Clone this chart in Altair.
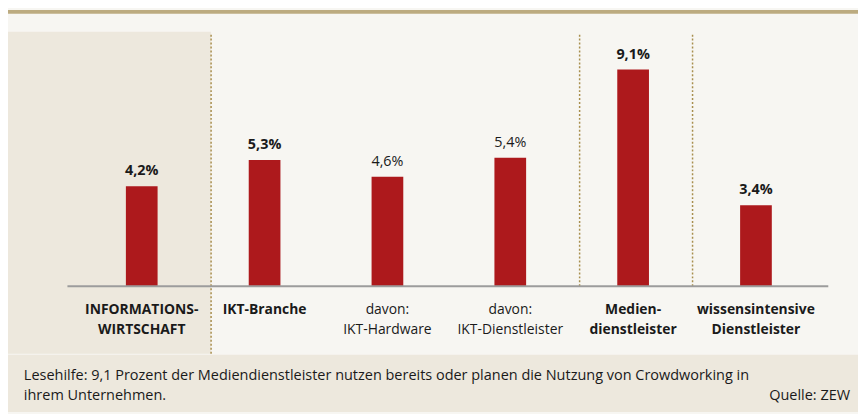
import altair as alt
import pandas as pd

categories = ["INFORMATIONS-\nWIRTSCHAFT", "IKT-Branche", "davon:\nIKT-Hardware",
              "davon:\nIKT-Dienstleister", "Medien-\ndienstleister", "wissensintensive\nDienstleister"]
values = [4.2, 5.3, 4.6, 5.4, 9.1, 3.4]
value_labels = ["4,2%", "5,3%", "4,6%", "5,4%", "9,1%", "3,4%"]
bold_flags = [True, True, False, False, True, True]
note_line1 = "Lesehilfe: 9,1 Prozent der Mediendienstleister nutzen bereits oder planen die Nutzung von Crowdworking in"
note_line2 = "ihrem Unternehmen."
source = "Quelle: ZEW"

FONT = "Open Sans"
BAR = "#ad191c"
BEIGE = "#ede8dd"
BG = "#f7f6f2"
GOLD = "#a88f4e"
INK = "#1a1a1a"

df = pd.DataFrame({"cat": categories, "value": values, "label": value_labels, "bold": bold_flags})
one = pd.DataFrame({"a": [0]})

xs = alt.Scale(domain=categories, range=[73, 817], paddingInner=0, paddingOuter=0)
ys = alt.Scale(domain=[0, 10], range=[279, 38.5])
X = alt.X("cat:N", scale=xs, axis=None, sort=categories)
Y = alt.Y("value:Q", scale=ys, axis=None)

def rect(x, x2, y, y2, color):
    return alt.Chart(one).mark_rect(color=color).encode(
        x=alt.value(x), x2=alt.value(x2), y=alt.value(y), y2=alt.value(y2))

def vrule(x, y, y2):
    return alt.Chart(one).mark_rule(color=GOLD, strokeDash=[2, 2], strokeWidth=1.5).encode(
        x=alt.value(x), y=alt.value(y), y2=alt.value(y2))

def text_line(t, x, y, align):
    return alt.Chart(pd.DataFrame({"t": [t]})).mark_text(
        font=FONT, fontSize=14.6, align=align, baseline="middle", color=INK).encode(
        x=alt.value(x), y=alt.value(y), text="t:N")

top_line = rect(0, 858, 0, 4, "#bcab80")
first_col = rect(0, 205, 22, 347, BEIGE)
bottom_band = rect(0, 858, 348, 406, BEIGE)
sep1 = vrule(205, 25, 347)
sep2 = vrule(577, 25, 279)
sep3 = vrule(691, 25, 279)
baseline = alt.Chart(one).mark_rule(color="#9c9c9c", strokeWidth=2).encode(
    x=alt.value(60), x2=alt.value(828), y=alt.value(279))

bars = alt.Chart(df).mark_bar(color=BAR, size=32).encode(x=X, y=Y)

def val_layer(sub, weight):
    return alt.Chart(sub).mark_text(font=FONT, fontSize=14.5, fontWeight=weight,
                                    baseline="bottom", dy=-8, color=INK).encode(
        x=X, y=Y, text="label:N")

def cat_layer(sub, weight):
    return alt.Chart(sub).mark_text(font=FONT, fontSize=14, fontWeight=weight,
                                    baseline="top", lineBreak="\n", lineHeight=20,
                                    color=INK).encode(
        x=X, y=alt.value(296), text="cat:N")

bold_df = df[df.bold]
norm_df = df[~df.bold]

chart = alt.layer(
    top_line, first_col, bottom_band, sep1, sep2, sep3, bars, baseline,
    val_layer(bold_df, "bold"), val_layer(norm_df, "normal"),
    cat_layer(bold_df, "bold"), cat_layer(norm_df, "normal"),
    text_line(note_line1, 16, 370, "left"), text_line(note_line2, 16, 390, "left"),
    text_line(source, 850, 390, "right"),
).properties(
    width=858, height=406, background=BG, padding=0,
    autosize=alt.AutoSizeParams(type="none")
).configure_view(stroke=None)

chart.save("out.html", embed_options={"renderer": "svg", "actions": False})
